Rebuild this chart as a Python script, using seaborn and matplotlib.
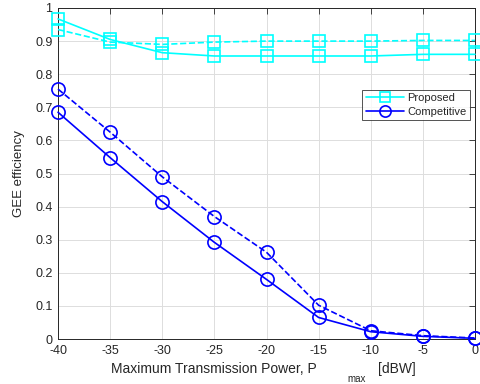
import matplotlib
matplotlib.use("Agg")
import matplotlib.pyplot as plt
import seaborn as sns
import numpy as np

power = [-40, -35, -30, -25, -20, -15, -10, -5, 0]
proposed_solid = [0.967, 0.905, 0.865, 0.855, 0.855, 0.855, 0.855, 0.860, 0.860]
proposed_dashed = [0.935, 0.897, 0.890, 0.897, 0.900, 0.900, 0.900, 0.902, 0.902]
competitive_solid = [0.685, 0.548, 0.415, 0.292, 0.180, 0.065, 0.022, 0.008, 0.002]
competitive_dashed = [0.755, 0.625, 0.490, 0.370, 0.262, 0.102, 0.025, 0.010, 0.003]
xticks = [-40, -35, -30, -25, -20, -15, -10, -5, 0]
yticks = [0, 0.1, 0.2, 0.3, 0.4, 0.5, 0.6, 0.7, 0.8, 0.9, 1]

sns.set_style("white")
plt.rcParams['font.family'] = ['Liberation Sans', 'DejaVu Sans']

fig = plt.figure(figsize=(4.8, 3.84), dpi=100)
ax = fig.add_axes([58/480, 1-339/384, (475-58)/480, (339-8)/384])

cyan = '#00FFFF'
blue = '#0000FF'
common = dict(linewidth=1.2, markerfacecolor='none', markeredgewidth=1.2, clip_on=False, zorder=3)

sns.lineplot(x=power, y=proposed_solid, ax=ax, color=cyan, marker='s', markersize=8.5,
             markeredgecolor=cyan, label='Proposed', **common)
sns.lineplot(x=power, y=proposed_dashed, ax=ax, color=cyan, marker='s', markersize=8.5,
             markeredgecolor=cyan, linestyle='--', **common)
sns.lineplot(x=power, y=competitive_solid, ax=ax, color=blue, marker='o', markersize=9.5,
             markeredgecolor=blue, label='Competitive', **common)
sns.lineplot(x=power, y=competitive_dashed, ax=ax, color=blue, marker='o', markersize=9.5,
             markeredgecolor=blue, linestyle='--', **common)

ax.set_xlim(-40, 0)
ax.set_ylim(0, 1)
ax.set_xticks(xticks)
ax.set_xticklabels([str(t) for t in xticks])
ax.set_yticks(yticks)
ax.set_yticklabels(['0' if t == 0 else ('1' if t == 1 else f'{t:.1f}') for t in yticks])
ax.grid(True, color='#DDDDDD', linewidth=0.7)
ax.set_axisbelow(True)
ax.tick_params(direction='in', length=4, labelsize=9, colors='#262626', top=True, right=True,
               width=0.6, pad=4)
for s in ax.spines.values():
    s.set_color('#262626')
    s.set_linewidth(0.7)

ax.set_ylabel('GEE efficiency', fontsize=9.5, color='#262626', labelpad=7)
ax.set_xlabel('')
fig.text(111/480, 1-369/384, 'Maximum Transmission Power, P', fontsize=10, color='#262626',
         ha='left', va='center')
fig.text(347/480, 1-379/384, 'max', fontsize=7, color='#262626', ha='left', va='center')
fig.text(378/480, 1-369/384, '[dBW]', fontsize=10, color='#262626', ha='left', va='center')

leg = ax.legend(loc='upper right', bbox_to_anchor=(470/480, 1-90/384), bbox_transform=fig.transFigure,
                fontsize=8, frameon=True, fancybox=False, edgecolor='#262626', borderpad=0.3,
                handlelength=3.4, handletextpad=0.35, labelspacing=0.3, borderaxespad=0,
                markerscale=0.85)
leg.get_frame().set_linewidth(0.7)

fig.savefig('out.png', dpi=100)
